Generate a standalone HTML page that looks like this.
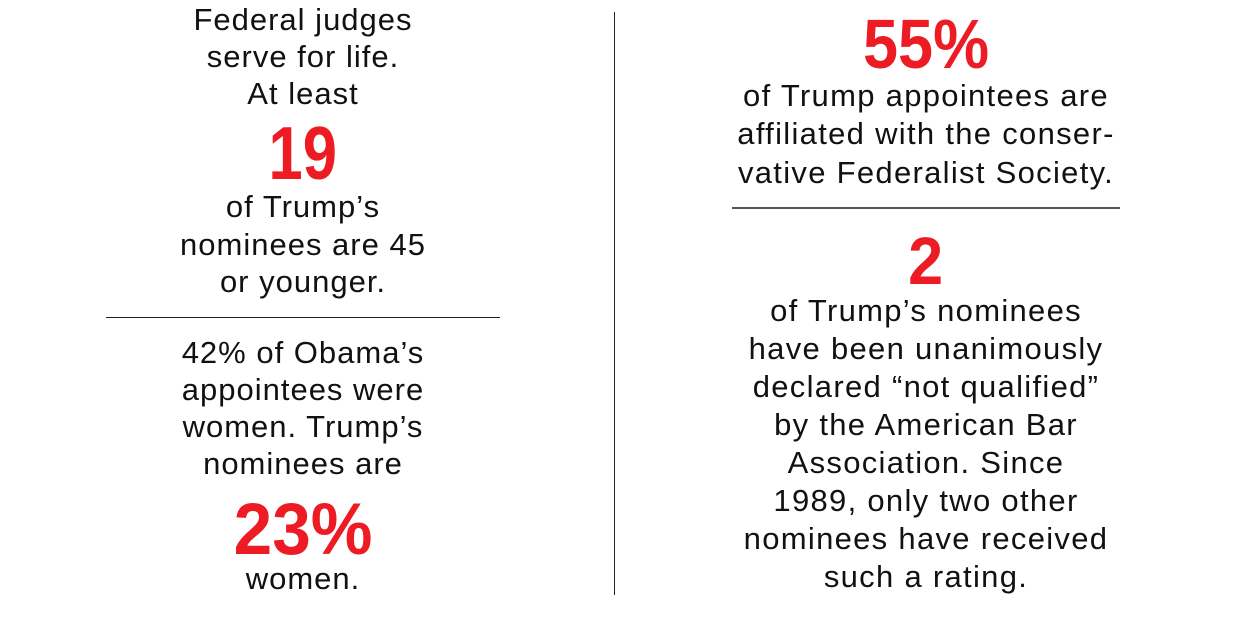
<!DOCTYPE html>
<html><head><meta charset="utf-8"><style>
html,body{margin:0;padding:0;background:#fff;}
body{width:1260px;height:626px;position:relative;overflow:hidden;font-family:"Liberation Sans",sans-serif;color:#111;}
.t{position:absolute;width:600px;text-align:center;font-size:31px;line-height:36px;height:36px;white-space:nowrap;letter-spacing:1px;}
.r.t{letter-spacing:1.3px;}
.n{position:absolute;width:600px;text-align:center;font-weight:bold;color:#ed1c24;white-space:nowrap;}
.n span{display:inline-block;}
.l{left:3px;}
.r{left:626px;}
</style></head><body>
<div class="t l" style="top:2px">Federal judges</div>
<div class="t l" style="top:39px">serve for life.</div>
<div class="t l" style="top:76px">At least</div>
<div class="n l" style="top:116px;font-size:75px;line-height:75px"><span style="transform:scaleX(0.82)">19</span></div>
<div class="t l" style="top:189px">of Trump’s</div>
<div class="t l" style="top:227px">nominees are 45</div>
<div class="t l" style="top:264px">or younger.</div>
<div style="position:absolute;left:106px;top:317px;width:394px;height:1px;background:#222"></div>
<div class="t l" style="top:335px">42% of Obama’s</div>
<div class="t l" style="top:372px">appointees were</div>
<div class="t l" style="top:409px">women. Trump’s</div>
<div class="t l" style="top:446px">nominees are</div>
<div class="n l" style="top:493px;font-size:73px;line-height:73px"><span style="transform:scaleX(0.95)">23%</span></div>
<div class="t l" style="top:561px">women.</div>
<div style="position:absolute;left:614px;top:12px;width:1px;height:583px;background:#222"></div>
<div class="n r" style="top:9px;font-size:70px;line-height:70px"><span style="transform:scaleX(0.9)">55%</span></div>
<div class="t r" style="top:78px">of Trump appointees are</div>
<div class="t r" style="top:116px">affiliated with the conser-</div>
<div class="t r" style="top:155px">vative Federalist Society.</div>
<div style="position:absolute;left:732px;top:207px;width:388px;height:2px;background:#555"></div>
<div class="n r" style="top:228px;font-size:67px;line-height:67px"><span style="transform:scaleX(0.94)">2</span></div>
<div class="t r" style="top:293px">of Trump’s nominees</div>
<div class="t r" style="top:331px">have been unanimously</div>
<div class="t r" style="top:369px">declared “not qualified”</div>
<div class="t r" style="top:407px">by the American Bar</div>
<div class="t r" style="top:445px">Association. Since</div>
<div class="t r" style="top:483px">1989, only two other</div>
<div class="t r" style="top:521px">nominees have received</div>
<div class="t r" style="top:559px">such a rating.</div>
</body></html>
